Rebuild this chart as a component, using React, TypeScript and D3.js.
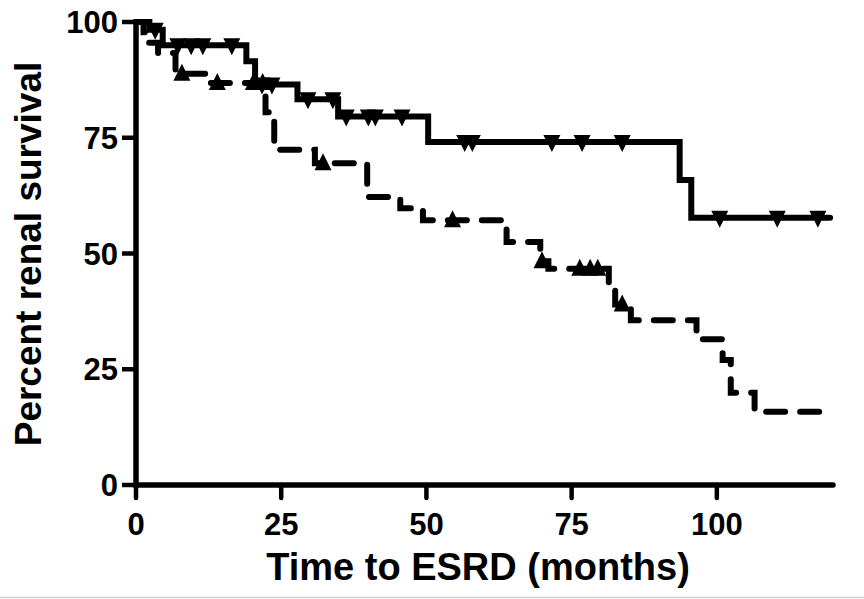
import React from "react";
import * as d3 from "d3";

// Kaplan–Meier step values: event times (months) and survival (%) after each step
const solidTimes = [0, 2.3, 4.6, 19, 20.5, 27.8, 34.8, 50.3, 93.6, 95.6, 119.5];
const solidSurvival = [100, 98.3, 95, 91.5, 86.5, 83.3, 79.6, 74.1, 65.9, 57.7, 57.7];
const solidCensored = [3.3, 7.2, 9.5, 11.5, 16.5, 21.7, 23.4, 29.6, 33.9, 36.2, 40, 41.2, 45.8, 56.6, 57.9, 71.6, 76.8, 83.7, 100.5, 110.4, 117.4];

const dashedTimes = [0, 1.3, 2.2, 3.8, 6.8, 12, 22.3, 23.8, 30.8, 39.8, 45.5, 49.4, 63.8, 69.6, 71, 81.4, 82.5, 85.2, 96.5, 101, 102.4, 106.5, 120];
const dashedSurvival = [100, 97.8, 95.5, 93.3, 88.8, 86.8, 80.5, 72.4, 69.5, 62.2, 59.8, 57.2, 52.5, 48.3, 46.7, 43.5, 39.0, 35.6, 31.5, 27.0, 19.9, 15.8, 15.8];
const dashedCensored = [7.9, 14, 20.2, 21.8, 32.2, 54.5, 69.9, 76.4, 78.2, 79.5, 83.7];

const xTicks = [0, 25, 50, 75, 100];
const yTicks = [0, 25, 50, 75, 100];
const xTitle = "Time to ESRD (months)";
const yTitle = "Percent renal survival";

const W = 864;
const H = 599;
const FONT = "'Liberation Sans', Arial, Helvetica, sans-serif";

const x = d3.scaleLinear().domain([0, 120]).range([136, 833]);
const y = d3.scaleLinear().domain([0, 100]).range([485, 22]);

const stepLine = d3
  .line<[number, number]>()
  .x((d) => x(d[0]))
  .y((d) => y(d[1]))
  .curve(d3.curveStepAfter);

function levelAt(times: number[], surv: number[], t: number) {
  let v = surv[0];
  for (let i = 0; i < times.length; i++) if (times[i] <= t) v = surv[i];
  return v;
}

function downTri(cx: number, cy: number) {
  return `M${cx - 8.5},${cy - 7}L${cx + 8.5},${cy - 7}L${cx},${cy + 10}Z`;
}
function upTri(cx: number, cy: number) {
  return `M${cx - 8.5},${cy + 7}L${cx + 8.5},${cy + 7}L${cx},${cy - 10}Z`;
}

export default function App() {
  const solidPts = solidTimes.map((t, i) => [t, solidSurvival[i]] as [number, number]);
  const dashedPts = dashedTimes.map((t, i) => [t, dashedSurvival[i]] as [number, number]);

  return (
    <svg
      width={W}
      height={H}
      viewBox={`0 0 ${W} ${H}`}
      style={{ position: "absolute", left: 0, top: 0, background: "#fff" }}
    >
      <rect x={0} y={0} width={W} height={H} fill="#fff" />
      <line x1={0} x2={W} y1={597.5} y2={597.5} stroke="#cfcfcf" strokeWidth={1.5} />

      {/* axes */}
      <g stroke="#000" strokeWidth={5.5}>
        <line x1={x(0)} y1={y(100)} x2={x(0)} y2={y(0)} strokeLinecap="square" />
        <line x1={x(0)} y1={y(0)} x2={x(120)} y2={y(0)} strokeLinecap="round" />
        {yTicks.map((t) => (
          <line key={`yt${t}`} x1={x(0) - 14} x2={x(0)} y1={y(t)} y2={y(t)} strokeWidth={4.5} />
        ))}
        {xTicks.map((t) => (
          <line key={`xt${t}`} x1={x(t)} x2={x(t)} y1={y(0)} y2={y(0) + 13} strokeWidth={4.5} strokeLinecap="round" />
        ))}
      </g>

      <g fontFamily={FONT} fontWeight="bold" fontSize={31} fill="#000">
        {yTicks.map((t) => (
          <text key={`yl${t}`} x={x(0) - 18} y={y(t) + 11} textAnchor="end">
            {t}
          </text>
        ))}
        {xTicks.map((t) => (
          <text key={`xl${t}`} x={x(t)} y={535} textAnchor="middle">
            {t}
          </text>
        ))}
      </g>

      <g fontFamily={FONT} fontWeight="bold" fill="#000">
        <text x={478} y={580} textAnchor="middle" fontSize={38}>
          {xTitle}
        </text>
        <text transform="translate(41,254) rotate(-90)" textAnchor="middle" fontSize={37}>
          {yTitle}
        </text>
      </g>

      {/* dashed group */}
      <path
        d={stepLine(dashedPts) || ""}
        fill="none"
        stroke="#000"
        strokeWidth={6}
        strokeDasharray="19 15"
        strokeLinecap="round"
      />
      {dashedCensored.map((t, i) => (
        <path key={`dc${i}`} d={upTri(x(t), y(levelAt(dashedTimes, dashedSurvival, t)))} fill="#000" />
      ))}

      {/* solid group */}
      <path
        d={stepLine(solidPts) || ""}
        fill="none"
        stroke="#000"
        strokeWidth={6}
        strokeLinecap="round"
      />
      {solidCensored.map((t, i) => (
        <path key={`sc${i}`} d={downTri(x(t), y(levelAt(solidTimes, solidSurvival, t)))} fill="#000" />
      ))}
    </svg>
  );
}
